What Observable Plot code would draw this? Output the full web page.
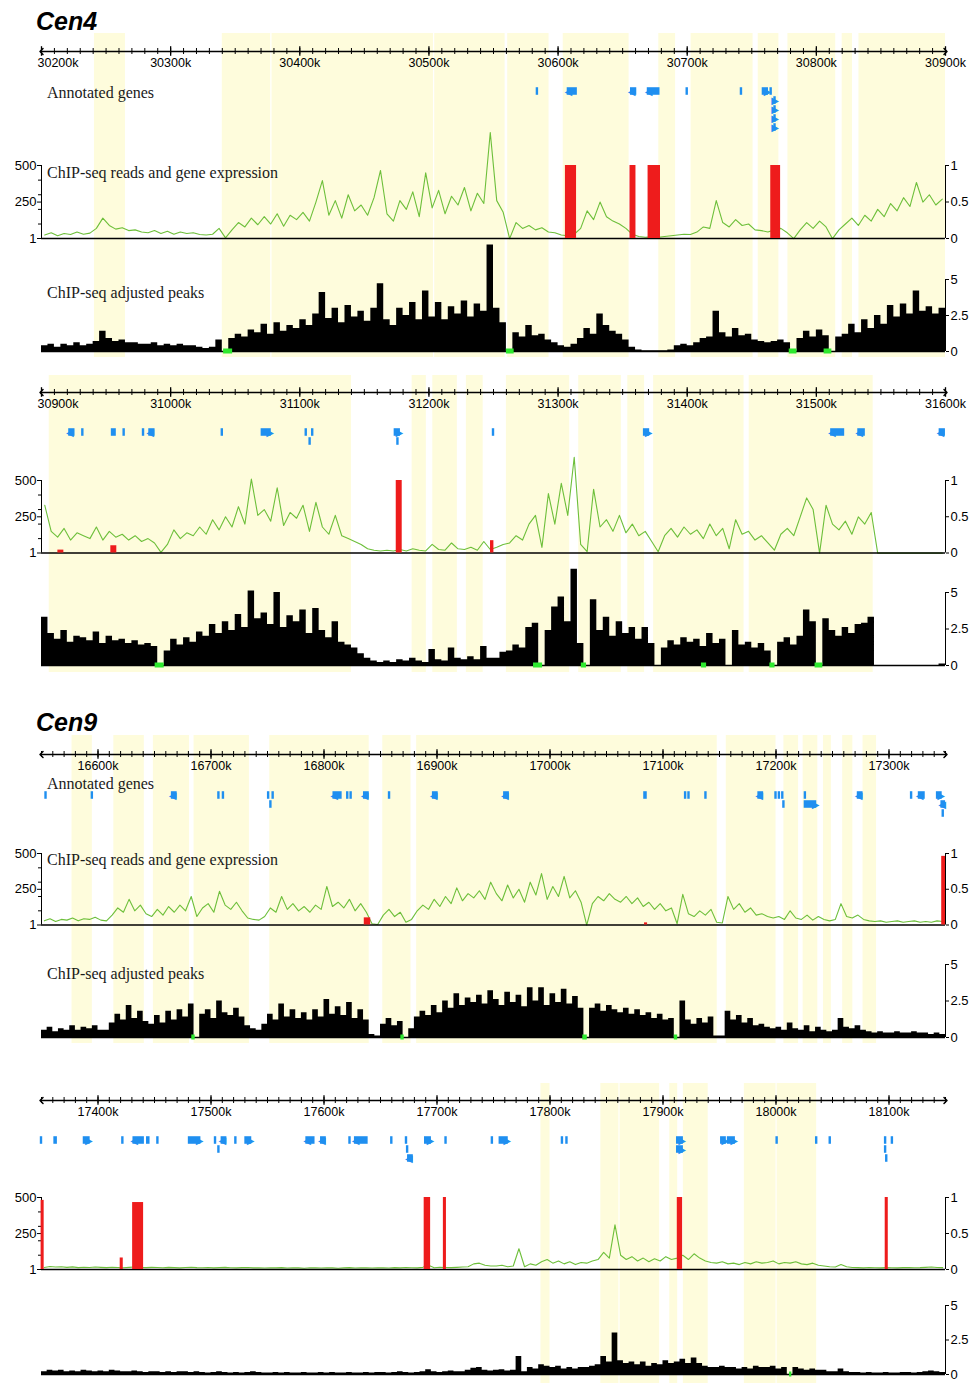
<!DOCTYPE html>
<html><head><meta charset="utf-8">
<script src="https://cdn.jsdelivr.net/npm/d3@7"></script>
<script src="https://cdn.jsdelivr.net/npm/@observablehq/plot@0.6"></script>
<style>
body{margin:0;background:#fff;}
#root{position:relative;width:969px;height:1383px;overflow:hidden;background:#fff;}
.abs{position:absolute;left:0;}
.lbl{position:absolute;font-family:"Liberation Serif","Times New Roman",serif;font-size:16px;line-height:16px;color:#1a1a1a;white-space:nowrap;}
.ttl{position:absolute;font-family:"Liberation Sans",Arial,sans-serif;font-weight:bold;font-style:italic;font-size:25px;line-height:25px;color:#000;}
</style></head><body><div id="root"></div>
<script>
const BIN = 5; // kb per bin

// ---------- Cen4, row 1 (30200k-30900k) ----------
const dom1 = [30200, 30900];
const ticks1 = [30200, 30300, 30400, 30500, 30600, 30700, 30800, 30900];
const reads1 = [25,40,20,35,28,45,30,38, 70,140,90,65,75,55,60,45, 40,55,35,50,30,45,35,40,28,25,30,70, 5,60, 110,80,140,95,150,100,170,85,160,130, 180,120,250,397,160,260,140,300,190,230, 160,280,466,170,120,260,200,320,150,450, 210,330,170,290,230,350,190,310,240,726,260,180, 0,110,70,90,60,75,45,40, 25,20,30,70, 190,130,250,150,120,100,70, 30,15,10,12,10,15,20, 25,30,28,45,80,70,260, 110,80,130,90,100,60,55, 45,60,70,40, 0, 60,110,70,120,80,0,60, 100,140,90,160,120,200,150,240,190,280,220,384,250,300,230,270];
const peaks1 = [0.4,0.5,0.3,0.5,0.4,0.6,0.4,0.5, 0.7,1.4,0.9,0.7,0.8,0.6,0.6,0.5, 0.5,0.6,0.4,0.5,0.4,0.5,0.4,0.4,0.3,0.2,0.3,0.8, 0,0.9, 1.2,1.0,1.5,1.3,1.9,1.2,2.0,1.4,1.8,1.6, 2.2,1.8,2.6,4.1,2.3,3.0,2.0,3.2,2.4,2.8, 2.1,3.0,4.7,2.2,1.8,3.0,2.5,3.4,2.2,4.2, 2.4,3.4,2.2,3.1,2.6,3.5,2.4,3.3,2.8,7.4,3.0,2.0, 0,1.3,1.0,1.8,1.1,1.2,0.8,0.6, 0.4,0.3,0.5,0.9, 1.6,1.2,2.6,1.8,1.4,1.2,0.8, 0.3,0.1,0.05,0.05,0.05,0.05,0.1, 0.4,0.5,0.4,0.6,0.9,1.0,2.8, 1.3,1.0,1.6,1.1,1.2,0.8,0.7, 0.6,0.7,0.8,0.6, 0, 0.9,1.4,1.0,1.5,1.1,0,1.0, 1.2,1.9,1.3,2.2,1.6,2.5,1.9,3.2,2.4,3.3,2.6,4.2,2.8,3.1,2.6,3.0];
const expr1 = [[30606,30614,1],[30656,30660,1],[30670,30679,1],[30765,30772,1]];
const bands1 = [[30241,30265],[30340,30377.5],[30378.5,30503.5],[30504.5,30559],[30561,30593],[30604,30655],[30678,30691],[30703,30751],[30755,30771],[30778,30815],[30820,30828],[30833,30900]];
const genes1 = [[30584,30584,".",0],[30608,30614,"-",0],[30657,30660,"-",0],[30670,30678,"-",0],[30700,30700,".",0],[30742,30742,".",0],[30759,30762,"+",0],[30765,30765,".",0],[30768,30768,"+",1],[30768,30768,"+",2],[30768,30768,"+",3],[30768,30768,"+",4]];
const marks1 = [[30341,30348],[30560,30566],[30779,30785],[30806,30812]];

// ---------- Cen4, row 2 (30900k-31600k) ----------
const dom2 = [30900, 31600];
const ticks2 = [30900, 31000, 31100, 31200, 31300, 31400, 31500, 31600];
const reads2 = [330,150,110,170,90,140,120,100,180,90,150,110, 130,90,120,80,100,70, 5,60, 160,100,140,120,180,130,230,160, 250,180,320,200,510,260,300,220,450,190,280,240,330,150, 350,180,130,260,120,100, 80,60,30,20, 15,20,15,25,15,30,20,15,60,25,20,70,30,25,40,20,80,25, 40,60,70,120,90,200, 260,40, 410,200,480,260,660,60, 10, 440,180,230,150,260,140,200, 120,150,80,10, 120,170,110,180,130,160,100,200,120,170,30,230,130,150, 90,120,70,20, 130,170,120,250, 380,300, 0, 330,200,160,220,130,250,200,280, 0,0,0,0,0,0,0,0,0,0,0];
const peaks2 = [3.3,2.2,1.8,2.4,1.6,2.0,1.9,1.7,2.3,1.5,2.0,1.7, 1.8,1.5,1.7,1.4,1.5,1.3, 0,1.0, 1.8,1.4,1.9,1.6,2.3,2.0,2.8,2.2, 3.0,2.4,3.5,2.6,5.1,3.2,3.6,2.8,5.0,2.6,3.4,3.0,3.8,2.2, 3.9,2.4,1.9,3.0,1.6,1.4, 1.2,0.8,0.5,0.3, 0.2,0.3,0.2,0.4,0.3,0.5,0.3,0.2,1.1,0.4,0.3,1.2,0.5,0.4,0.6,0.4,1.3,0.5, 0.5,0.9,1.0,1.4,1.2,2.6, 2.9,0, 2.4,4.0,4.7,3.0,6.6,1.5, 0, 4.5,2.4,3.3,2.0,3.0,2.2,2.6, 1.8,2.6,1.5,0, 1.2,1.7,1.4,1.9,1.6,1.8,1.3,2.2,1.5,1.8,0,2.4,1.4,1.6, 1.2,1.5,1.0,0, 1.6,1.9,1.4,2.0, 3.8,3.0, 0, 3.2,2.4,2.0,2.6,2.2,2.8,2.9,3.3, 0,0,0,0,0,0,0,0,0,0,0.1];
const expr2 = [[30913,30917,0.04],[30954,30958,0.1],[31175,31179,1],[31248,31250,0.17]];
const bands2 = [[30906,31140],[31187,31198],[31203,31222],[31229,31242],[31260,31309],[31316,31349],[31354,31367],[31374,31444],[31448,31544]];
const genes2 = [[30922,30925,"-",0],[30932,30932,".",0],[30955,30957,".",0],[30964,30964,".",0],[30979,30979,".",0],[30984,30987,"-",0],[31040,31040,".",0],[31071,31077,"+",0],[31105,31105,".",0],[31110,31110,".",0],[31108,31108,".",1],[31174,31177,"+",0],[31176,31176,".",1],[31250,31250,".",0],[31367,31370,"+",0],[31512,31521,"-",0],[31533,31537,"-",0],[31596,31599,"-",0]];
const marks2 = [[30988,30995],[31281,31288],[31318,31322],[31411,31415],[31464,31468],[31499,31505]];

// ---------- Cen9, row 1 (16550k-17350k) ----------
const dom3 = [16550, 17350];
const ticks3 = [16600, 16700, 16800, 16900, 17000, 17100, 17200, 17300];
const reads3 = [30,45,25,40,35,50,30,45,40,55,35,30, 70,120,90,180,100,140,80,60, 110,70,130,90,140,100,200,60, 120,150,90,236,140,110,160,100, 50,40,35,60, 120,90,200,110,150,100,130,90, 140,110,270,130,160,120,180,100,150,90, 10,5, 70,110,60,90, 20,40, 100,140,110,180,130,200,150,260,170,220,190,240,180,300, 220,170,280,190,250,160,300,210,360,180,270,200,340,190,240,160, 0, 150,200,170,220,180,160,200,150,190, 130,160,110,150,100,120, 10,215,80,60,100,70,110, 20,15, 200,110,150,90,120, 70,80,60,50, 60,40,100,50,40,70,35,60,40,30, 40,150,60,50,70,40, 30,25,30,20,25,30,20,25,30,20,25,20,30,25];
const peaks3 = [0.5,0.7,0.4,0.6,0.5,0.8,0.5,0.7,0.6,0.8,0.5,0.5, 1.0,1.6,1.2,2.2,1.3,1.8,1.1,0.9, 1.5,1.0,1.8,1.2,1.9,1.4,2.3,0, 1.6,1.9,1.3,2.5,1.7,1.5,2.0,1.4, 0.8,0.6,0.5,0.9, 1.6,1.2,2.3,1.4,1.9,1.3,1.7,1.2, 1.9,1.4,2.6,1.6,2.1,1.5,2.4,1.3,1.9,1.2, 0.2,0.1, 0.9,1.3,0.8,1.1, 0,0.6, 1.4,1.8,1.5,2.2,1.7,2.5,2.0,3.0,2.2,2.7,2.4,2.9,2.3,3.2, 2.6,2.2,3.1,2.4,2.9,2.1,3.4,2.5,3.4,2.2,3.0,2.4,3.3,2.3,2.8,2.0, 0, 2.0,2.3,1.8,2.2,1.9,1.7,2.0,1.6,1.9, 1.5,1.7,1.3,1.6,1.2,1.3, 0,2.5,1.2,0.9,1.3,1.0,1.4, 0.1,0.1, 1.8,1.2,1.5,1.0,1.3, 0.8,0.9,0.7,0.6, 0.7,0.5,1.0,0.6,0.5,0.8,0.4,0.7,0.5,0.4, 0.5,1.3,0.7,0.6,0.8,0.5, 0.4,0.3,0.4,0.3,0.3,0.4,0.3,0.3,0.4,0.3,0.3,0.2,0.3,0.2];
const expr3 = [[16836,16841,0.1],[17084,17086,0.03],[17347,17350,0.96]];
const bands3 = [[16577,16595],[16614,16641],[16649,16681],[16685,16734],[16752,16840],[16852,16877],[16882,17148],[17156,17200],[17207,17220],[17224,17237],[17242,17249],[17259,17268],[17277,17289]];
const genes3 = [[16554,16554,".",0],[16595,16595,".",0],[16666,16669,"-",0],[16707,16707,".",0],[16711,16711,".",0],[16751,16751,".",0],[16755,16755,".",0],[16753,16753,".",1],[16809,16815,"-",0],[16821,16821,".",0],[16824,16824,".",0],[16836,16839,"-",0],[16858,16858,".",0],[16897,16900,"-",0],[16960,16963,"-",0],[17084,17085,".",0],[17120,17120,".",0],[17123,17123,".",0],[17138,17138,".",0],[17185,17188,"-",0],[17200,17200,".",0],[17203,17203,".",0],[17206,17206,".",0],[17207,17207,".",1],[17226,17226,".",0],[17226,17235,"+",1],[17273,17276,"-",0],[17320,17320,".",0],[17327,17331,"-",0],[17343,17346,"+",0],[17347,17349,"-",1],[17348,17348,".",2]];
const marks3 = [[16683,16686],[16868,16871],[17029,17033],[17110,17113]];

// ---------- Cen9, row 2 (17350k-18150k) ----------
const dom4 = [17350, 18150];
const ticks4 = [17400, 17500, 17600, 17700, 17800, 17900, 18000, 18100];
const reads4 = [15,22,18,20,16,19,14,17,15,18,16,14,17,15,13,16,18,15,14,16, 15,13,16,14,12,15,17,14,13,15,12,14,16,13,12,14,15,12,13,11, 13,12,14,11,13,12,10,13,12,11,13,12,10,12,14,11,12,13,11,12, 13,11,14,12,15,13,12,16,30,13,17,15,14,16,18,20,40,45,30,25, 25,30,20,25, 145,20, 40,30,55, 70,45,60,40,55,35,50,45,60,70, 120,80,310, 100,70,90,60,80,55,75,60,90,70,80, 100,70,110, 80,60,50,45,55,40, 45,35,50,40,55,45,50,60,40,50,45,55,40,35,45,30, 25,20,18,35, 20,15,14,12,15,13,12,14,13,12,14,15,13,14,16,18,15,14];
const peaks4 = [0.2,0.3,0.25,0.3,0.2,0.25,0.2,0.3,0.25,0.2,0.25,0.2,0.3,0.25,0.2,0.2,0.25,0.2,0.15,0.2, 0.2,0.15,0.2,0.15,0.2,0.2,0.15,0.2,0.15,0.1,0.15,0.2,0.15,0.1,0.15,0.1,0.15,0.2,0.15,0.1, 0.1,0.15,0.1,0.15,0.1,0.1,0.15,0.1,0.1,0.15,0.1,0.15,0.1,0.1,0.15,0.1,0.1,0.15,0.1,0.15, 0.15,0.1,0.15,0.2,0.15,0.1,0.15,0.2,0.35,0.2,0.15,0.2,0.25,0.2,0.2,0.3,0.45,0.5,0.3,0.25, 0.3,0.35,0.25,0.3, 1.3,0.2, 0.5,0.4,0.7, 0.6,0.5,0.6,0.4,0.5,0.4,0.5,0.5,0.6,0.7, 1.3,0.9,3.0, 1.0,0.8,0.9,0.7,0.9,0.6,0.8,0.7,1.0,0.8,0.9, 1.1,0.8,1.2, 0.8,0.6,0.5,0.5,0.6,0.5, 0.5,0.4,0.5,0.4,0.6,0.5,0.5,0.6,0.4,0.5,0,0.5,0.4,0.3,0.4,0.3, 0.3,0.2,0.2,0.4, 0.2,0.15,0.15,0.1,0.15,0.1,0.1,0.15,0.1,0.1,0.15,0.15,0.1,0.15,0.2,0.25,0.2,0.15];
const expr4 = [[17350,17352,0.96],[17420,17422,0.16],[17431,17440,0.93],[17689,17694,1],[17706,17708,1],[17913,17917,1],[18097,18099,1]];
const bands4 = [[17792,17800],[17845,17861],[17862,17897],[17906,17913],[17918,17940],[17972,18000],[18001,18036]];
const genes4 = [[17350,17350,".",0],[17362,17363,".",0],[17388,17392,"+",0],[17422,17422,".",0],[17432,17440,"-",0],[17444,17445,".",0],[17453,17453,".",0],[17481,17490,"+",0],[17504,17504,".",0],[17510,17513,"-",0],[17507,17507,".",1],[17522,17522,".",0],[17531,17535,"+",0],[17585,17591,"-",0],[17598,17601,"-",0],[17623,17623,".",0],[17628,17638,"-",0],[17660,17660,".",0],[17673,17673,".",0],[17674,17674,".",1],[17675,17678,"-",2],[17690,17694,"+",0],[17708,17708,".",0],[17749,17749,".",0],[17756,17762,"+",0],[17811,17811,".",0],[17815,17815,".",0],[17913,17917,"+",0],[17913,17917,"+",1],[17952,17955,"+",0],[17958,17963,"+",0],[18001,18001,".",0],[18036,18036,".",0],[18048,18048,".",0],[18097,18097,".",0],[18103,18103,".",0],[18097,18097,".",1],[18098,18098,".",2]];
const marks4 = [[18012,18014]];

// ---------- text ----------
const trackLabels = ["Annotated genes", "ChIP-seq reads and gene expression", "ChIP-seq adjusted peaks"];
const readTicks = [1, 250, 500];
const exprTicks = [0, 0.5, 1];
const peakTicks = [0, 2.5, 5];

// ---------- drawing ----------
const W = 969, ML = 41, MR = 24;
const BLUE = "#1f8ff0", GREEN = "#6dbf3a", RED = "#ee1c1c", YELLOW = "#fefcdc", MARKC = "#2ee82e";
const root = document.getElementById("root");
const baseStyle = {background: "transparent", overflow: "visible", maxWidth: "none", fontFamily: "Liberation Sans, Arial, sans-serif", fontSize: "13px", color: "#000"};
const numFmt = d => String(d);
function place(el, top) { el.classList.add("abs"); el.style.top = top + "px"; root.appendChild(el); }
function addText(cls, txt, left, top) { const d = document.createElement("div"); d.className = cls; d.textContent = txt; d.style.left = left + "px"; d.style.top = top + "px"; root.appendChild(d); }
const lineSeries = (vals, x0) => vals.map((v, i) => ({x: x0 + i * BIN + BIN / 2, y: v}));
const stepSeries = (vals, x0, x1) => [...vals.map((v, i) => ({x: x0 + i * BIN, y: v})), {x: x1, y: vals[vals.length - 1]}];

function panel(c) {
  const dom = c.domain;
  const xs = {domain: dom, axis: null};
  const common = {width: W, marginLeft: ML, marginRight: MR, style: baseStyle};

  // background bands
  place(Plot.plot({...common, height: c.bandBot - c.bandTop, marginTop: 0, marginBottom: 0, x: xs,
    marks: [Plot.rect(c.bands, {x1: d => d[0], x2: d => d[1], fill: YELLOW})]}), c.bandTop);

  // genomic axis
  const minor = d3.range(Math.ceil(dom[0] / 10) * 10, dom[1] + 0.1, 10);
  const mid = (dom[0] + dom[1]) / 2;
  place(Plot.plot({...common, height: 40, marginTop: 10, marginBottom: 24, x: xs, y: {domain: [-1, 1], axis: null},
    style: {...baseStyle, fontSize: "12.5px"},
    marks: [
      Plot.tickX(minor, {x: d => d, stroke: "#000", strokeWidth: 1}),
      Plot.ruleX(c.ticks, {x: d => d, y1: () => -1.6, y2: () => 1.6, stroke: "#000", strokeWidth: 1.3}),
      Plot.line([mid, dom[0]], {x: d => d, y: () => 0, stroke: "#000", strokeWidth: 1.5, markerEnd: "arrow"}),
      Plot.line([mid, dom[1]], {x: d => d, y: () => 0, stroke: "#000", strokeWidth: 1.5, markerEnd: "arrow"}),
      Plot.text(c.ticks.filter(d => d !== dom[0]), {x: d => d, y: () => 0, dy: 11, text: d => d + "k", textAnchor: "middle", fill: "#000"}),
      Plot.text(c.ticks.filter(d => d === dom[0]), {x: d => d, y: () => 0, dy: 11, dx: -4, text: d => d + "k", textAnchor: "start", fill: "#000"})
    ]}), c.axisY - 13);

  // genes
  place(Plot.plot({...common, height: 56, marginTop: 10, marginBottom: 10, x: xs, y: {domain: [0, 4], range: [10, 46], axis: null},
    marks: [
      Plot.rect(c.genes, {x1: d => d[0], x2: d => d[1], y1: d => d[3] - 0.42, y2: d => d[3] + 0.42, insetLeft: -1.2, insetRight: -1.2, fill: BLUE}),
      Plot.text(c.genes.filter(d => d[2] === "+"), {x: d => d[1], y: d => d[3], text: () => "\u25B6", fill: BLUE, fontSize: 10, fontFamily: "DejaVu Sans", dx: 0, dy: 0.5}),
      Plot.text(c.genes.filter(d => d[2] === "-"), {x: d => d[0], y: d => d[3], text: () => "\u25C0", fill: BLUE, fontSize: 10, fontFamily: "DejaVu Sans", dx: 0, dy: 0.5})
    ]}), c.geneY - 10);

  // reads + expression
  const rT = 40, rB = 10, rH = c.readsBot - c.readsTop;
  place(Plot.plot({...common, height: rH + rT + rB, marginTop: rT, marginBottom: rB, x: xs, y: {domain: [1, 500], axis: null},
    marks: [
      Plot.line(lineSeries(c.reads, dom[0]), {x: "x", y: "y", stroke: GREEN, strokeWidth: 1.1}),
      Plot.ruleY([1], {stroke: "#000", strokeWidth: 1.6}),
      Plot.ruleX([dom[0]], {y1: () => 1, y2: () => 500, stroke: "#000"}),
      Plot.axisY({ticks: [100, 200, 300, 400], anchor: "left", tickSize: 3, tickFormat: () => "", label: null}),
      Plot.axisY({ticks: readTicks, anchor: "left", tickSize: 4, tickPadding: 1, fontSize: 13, tickFormat: numFmt, label: null})
    ]}), c.readsTop - rT);
  place(Plot.plot({...common, height: rH + rT + rB, marginTop: rT, marginBottom: rB, x: xs, y: {domain: [0, 1], axis: null},
    marks: [
      Plot.rect(c.expr, {x1: d => d[0], x2: d => d[1], y1: () => 0, y2: d => d[2], fill: RED, insetLeft: -0.4, insetRight: -0.4}),
      Plot.ruleX([dom[1]], {y1: () => 0, y2: () => 1, stroke: "#000"}),
      Plot.axisY({ticks: exprTicks, anchor: "right", tickSize: 3, tickPadding: 2, fontSize: 13, tickFormat: numFmt, label: null})
    ]}), c.readsTop - rT);

  // adjusted peaks
  const pT = 50, pB = 10, pH = c.peaksBot - c.peaksTop;
  place(Plot.plot({...common, height: pH + pT + pB, marginTop: pT, marginBottom: pB, x: xs, y: {domain: [0, 5], axis: null},
    marks: [
      Plot.areaY(stepSeries(c.peaks, dom[0], dom[1]), {x: "x", y: "y", curve: "step-after", fill: "#000"}),
      Plot.ruleY([0], {stroke: "#000", strokeWidth: 1.5}),
      Plot.rect(c.marks, {x1: d => d[0], x2: d => d[1], y1: () => 0, y2: () => 0, insetTop: -2.5, insetBottom: -2.5, fill: MARKC}),
      Plot.ruleX([dom[1]], {y1: () => 0, y2: () => 5, stroke: "#000"}),
      Plot.axisY({ticks: peakTicks, anchor: "right", tickSize: 3, tickPadding: 2, fontSize: 13, tickFormat: numFmt, label: null})
    ]}), c.peaksTop - pT);
}

const panels = [
  {domain: dom1, ticks: ticks1, reads: reads1, peaks: peaks1, expr: expr1, bands: bands1, genes: genes1, marks: marks1,
   bandTop: 33, bandBot: 357, axisY: 50.5, geneY: 91, readsTop: 165, readsBot: 238, peaksTop: 279, peaksBot: 351},
  {domain: dom2, ticks: ticks2, reads: reads2, peaks: peaks2, expr: expr2, bands: bands2, genes: genes2, marks: marks2,
   bandTop: 375, bandBot: 672, axisY: 391.5, geneY: 432, readsTop: 480, readsBot: 552.5, peaksTop: 592, peaksBot: 665},
  {domain: dom3, ticks: ticks3, reads: reads3, peaks: peaks3, expr: expr3, bands: bands3, genes: genes3, marks: marks3,
   bandTop: 735, bandBot: 1043, axisY: 753.5, geneY: 795, readsTop: 852.5, readsBot: 924, peaksTop: 963.5, peaksBot: 1036.5},
  {domain: dom4, ticks: ticks4, reads: reads4, peaks: peaks4, expr: expr4, bands: bands4, genes: genes4, marks: marks4,
   bandTop: 1083, bandBot: 1383, axisY: 1100, geneY: 1140, readsTop: 1197, readsBot: 1269, peaksTop: 1305, peaksBot: 1374}
];
panels.forEach(panel);

addText("ttl", "Cen4", 36, 9);
addText("ttl", "Cen9", 36, 710);
addText("lbl", trackLabels[0], 47, 85);
addText("lbl", trackLabels[1], 47, 165);
addText("lbl", trackLabels[2], 47, 285);
addText("lbl", trackLabels[0], 47, 776);
addText("lbl", trackLabels[1], 47, 852);
addText("lbl", trackLabels[2], 47, 966);
</script></body></html>
